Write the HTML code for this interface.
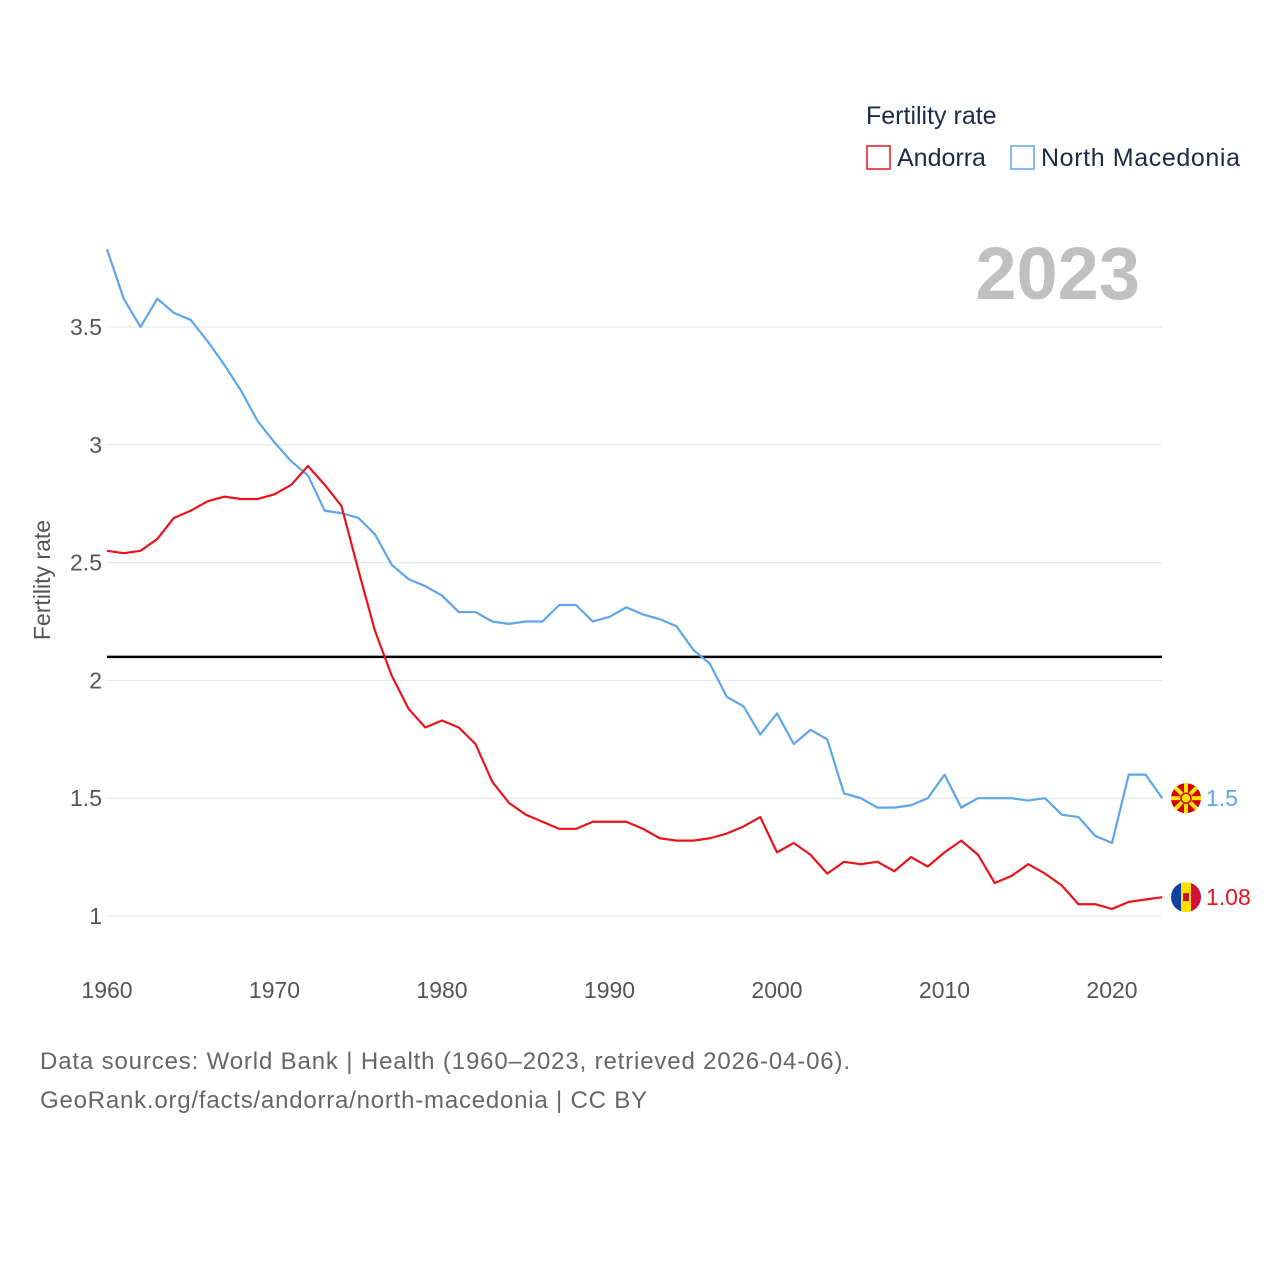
<!DOCTYPE html>
<html><head><meta charset="utf-8">
<style>
body{margin:0;background:#fff;font-family:"Liberation Sans",sans-serif;}
svg text{font-family:"Liberation Sans",sans-serif;}
</style></head>
<body>
<svg id="chart" width="1280" height="1280" viewBox="0 0 1280 1280" xmlns="http://www.w3.org/2000/svg">
<text x="866" y="124" font-size="25" fill="#1a2b4a">Fertility rate</text>
<g>
<rect x="867" y="146" width="23" height="23" fill="none" stroke="#e8141c" stroke-width="1.5"/>
<text x="897" y="166" font-size="25" fill="#1a2b4a">Andorra</text></g>
<g>
<rect x="1011" y="146" width="23" height="23" fill="none" stroke="#5fa5ea" stroke-width="1.5"/>
<text x="1041" y="166" font-size="25" fill="#1a2b4a" textLength="199">North Macedonia</text></g>
<text x="1140" y="299" font-size="74" font-weight="bold" fill="#c0c0c0" text-anchor="end">2023</text>
<text transform="translate(50,580) rotate(-90)" font-size="23" fill="#555" text-anchor="middle">Fertility rate</text>
<g id="grid"></g><g id="series"></g>
<text x="40" y="1069" font-size="24" fill="#666" textLength="810">Data sources: World Bank | Health (1960–2023, retrieved 2026-04-06).</text>
<text x="40" y="1108" font-size="24" fill="#666" textLength="607">GeoRank.org/facts/andorra/north-macedonia | CC BY</text>
</svg>
<script>
const years=[];for(let y=1960;y<=2023;y++)years.push(y);
const andorra=[2.55,2.54,2.55,2.60,2.69,2.72,2.76,2.78,2.77,2.77,2.79,2.83,2.91,2.83,2.74,2.47,2.21,2.02,1.88,1.80,1.83,1.80,1.73,1.57,1.48,1.43,1.40,1.37,1.37,1.40,1.40,1.40,1.37,1.33,1.32,1.32,1.33,1.35,1.38,1.42,1.27,1.31,1.26,1.18,1.23,1.22,1.23,1.19,1.25,1.21,1.27,1.32,1.26,1.14,1.17,1.22,1.18,1.13,1.05,1.05,1.03,1.06,1.07,1.08];
const macedonia=[3.83,3.62,3.50,3.62,3.56,3.53,3.44,3.34,3.23,3.10,3.01,2.93,2.87,2.72,2.71,2.69,2.62,2.49,2.43,2.40,2.36,2.29,2.29,2.25,2.24,2.25,2.25,2.32,2.32,2.25,2.27,2.31,2.28,2.26,2.23,2.13,2.07,1.93,1.89,1.77,1.86,1.73,1.79,1.75,1.52,1.50,1.46,1.46,1.47,1.50,1.60,1.46,1.50,1.50,1.50,1.49,1.50,1.43,1.42,1.34,1.31,1.60,1.60,1.50];
const yTicks=[1,1.5,2,2.5,3,3.5];
const yTickLabels=["1","1.5","2","2.5","3","3.5"];
const xTicks=[1960,1970,1980,1990,2000,2010,2020];
const replacement=2.1;
const NS="http://www.w3.org/2000/svg";
const X0=107,X1=1162;
const xs=y=>107+(y-1960)*16.75;
const ys=v=>916-(v-1)*235.6;
function mk(tag,attrs,parent){const e=document.createElementNS(NS,tag);for(const k in attrs)e.setAttribute(k,attrs[k]);parent.appendChild(e);return e;}
const grid=document.getElementById('grid'),ser=document.getElementById('series');
yTicks.forEach((t,i)=>{
 const l=mk('line',{x1:X0,x2:X1,y1:ys(t),y2:ys(t),stroke:'#e6e6e6','stroke-width':1},grid);
 
 
 const tx=mk('text',{x:102,y:ys(t)+8,'font-size':23,fill:'#555','text-anchor':'end'},grid);
 tx.textContent=yTickLabels[i];
 
 
});
xTicks.forEach(t=>{
 const tx=mk('text',{x:xs(t),y:998,'font-size':23,fill:'#555','text-anchor':'middle'},grid);
 tx.textContent=t;
 
 
});
const ref=mk('line',{x1:X0,x2:X1,y1:ys(replacement),y2:ys(replacement),stroke:'#000','stroke-width':2.5},ser);


function line(data,color,name){
 const p=mk('polyline',{points:data.map((v,i)=>xs(years[i])+','+ys(v)).join(' '),fill:'none',stroke:color,'stroke-width':2.2,'stroke-linejoin':'round'},ser);
 
 
}
line(macedonia,'#5fa5ea','north-macedonia-line');
line(andorra,'#e8141c','andorra-line');
function endLabel(data,color,name,flag){
 const v=data[data.length-1],cy=ys(v),cx=1186;
 const g=mk('g',{},ser);
 
 
 if(flag==='mk'){
  mk('circle',{cx:cx,cy:cy,r:15,fill:'#d20000'},g);
  for(let a=0;a<8;a++){const an=a*Math.PI/4;mk('line',{x1:cx,y1:cy,x2:cx+15*Math.cos(an),y2:cy+15*Math.sin(an),stroke:'#ffe600','stroke-width':4},g);}
  mk('circle',{cx:cx,cy:cy,r:5,fill:'#ffe600',stroke:'#d20000','stroke-width':1.5},g);
 }else{
  mk('clipPath',{id:'cl'},g);
  const cp=g.lastChild;mk('circle',{cx:cx,cy:cy,r:15},cp);
  const gg=mk('g',{'clip-path':'url(#cl)'},g);
  mk('rect',{x:cx-15,y:cy-15,width:10,height:30,fill:'#1040a0'},gg);
  mk('rect',{x:cx-5,y:cy-15,width:10,height:30,fill:'#fedf00'},gg);
  mk('rect',{x:cx+5,y:cy-15,width:10,height:30,fill:'#d0103a'},gg);
  mk('rect',{x:cx-3,y:cy-4,width:6,height:8,fill:'#c7102e'},gg);
 }
 const t=mk('text',{x:1206,y:cy+8,'font-size':23,fill:color},g);
 t.textContent=String(v);
}
endLabel(macedonia,'#5fa5ea','north-macedonia','mk');
endLabel(andorra,'#e8141c','andorra','ad');
</script>
</body></html>
